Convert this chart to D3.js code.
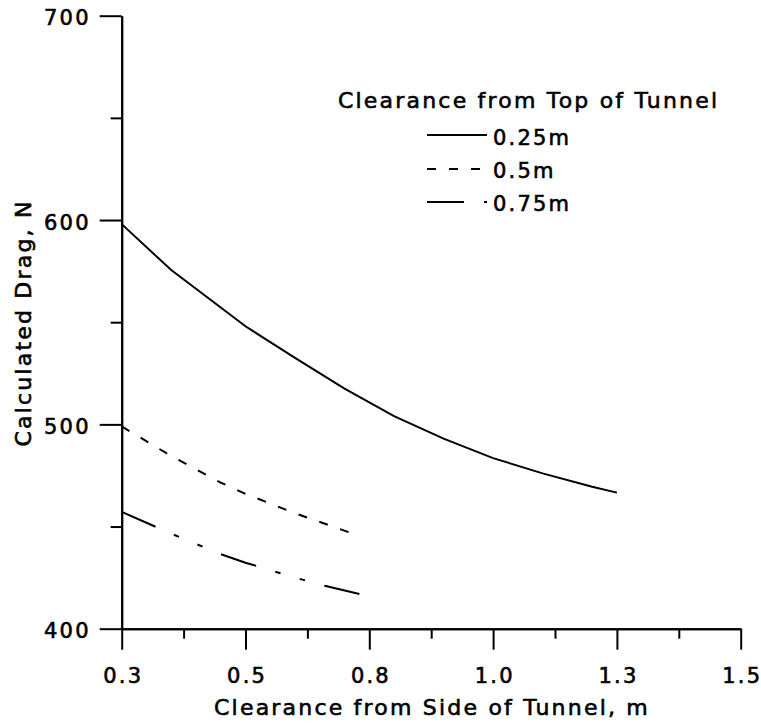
<!DOCTYPE html>
<html>
<head>
<meta charset="utf-8">
<script src="https://cdn.jsdelivr.net/npm/d3@7"></script>
<style>
  body { margin: 0; background: #fff; }
  text { font-family: "DejaVu Sans", sans-serif; fill: #000; stroke: #000; stroke-width: 0.6px; letter-spacing: 2.2px; }
</style>
</head>
<body>
<div id="chart"></div>
<script>
// clearance from side of tunnel, m
var xTop25 = [0.25, 0.35, 0.5, 0.6, 0.7, 0.8, 0.9, 1.0, 1.1, 1.2, 1.25]
var dragTop25 = [598, 575.5, 548, 532.5, 517.5, 504, 493, 483.5, 476, 469.5, 466.6]

var xTop50 = [0.25, 0.35, 0.45, 0.5, 0.6, 0.73]
var dragTop50 = [499, 484.5, 471.5, 466, 456.5, 445.4]

var xTop75 = [0.25, 0.35, 0.45, 0.5, 0.6, 0.66, 0.73]
var dragTop75 = [457.2, 446.5, 436.5, 432.3, 425, 421, 417]

var seriesNames = ["0.25m", "0.5m", "0.75m"]
var dashes = [null, "9,13", "37,20,5.5,20,5.5,20"]

var xTicks = [0.25, 0.5, 0.75, 1.0, 1.25, 1.5]
var xTickLabels = ["0.3", "0.5", "0.8", "1.0", "1.3", "1.5"]
var xMinor = [0.375, 0.625, 0.875, 1.125, 1.375]
var yTicks = [400, 500, 600, 700]
var yMinor = [450, 550, 650]

drawChart(document.getElementById("chart"))

function drawChart(element)
{
  var svg = d3.select(element)
    .append("svg")
      .attr("width", 761)
      .attr("height", 724)

  var x = d3.scaleLinear().domain([0.25, 1.5]).range([121.7, 740.7])
  var y = d3.scaleLinear().domain([400, 700]).range([628.7, 15.7])

  // minor ticks first, majors on top
  svg.append("g")
      .attr("transform", "translate(0,628.7)")
      .call(d3.axisBottom(x).tickValues(xMinor).tickSize(10).tickFormat("").tickSizeOuter(0))
  svg.append("g")
      .attr("transform", "translate(121.7,0)")
      .call(d3.axisLeft(y).tickValues(yMinor).tickSize(11).tickFormat("").tickSizeOuter(0))

  var xAxis = svg.append("g")
      .attr("transform", "translate(0,628.7)")
      .call(d3.axisBottom(x).tickValues(xTicks).tickSize(21).tickSizeOuter(0)
        .tickFormat(function(d, i) { return xTickLabels[i] }))
  xAxis.selectAll("text")
      .attr("y", 54.3)
      .attr("dy", null)
      .attr("dx", 1.1)
      .style("font-size", "21px")

  var yAxis = svg.append("g")
      .attr("transform", "translate(121.7,0)")
      .call(d3.axisLeft(y).tickValues(yTicks).tickSize(22).tickSizeOuter(0))
  yAxis.selectAll("text")
      .attr("x", -31)
      .attr("dy", 9)
      .style("font-size", "21px")

  svg.selectAll(".domain, .tick line")
      .attr("stroke", "#000")
      .attr("stroke-width", 2)
  svg.selectAll(".tick text").attr("font-family", null).attr("font-size", null)

  // curves
  var sets = [[xTop25, dragTop25], [xTop50, dragTop50], [xTop75, dragTop75]]
  var line = d3.line()
      .x(function(d) { return x(d[0]) })
      .y(function(d) { return y(d[1]) })

  sets.forEach(function(s, i) {
    svg.append("path")
        .datum(d3.zip(s[0], s[1]))
        .attr("d", line)
        .attr("fill", "none")
        .attr("stroke", "#000")
        .attr("stroke-width", 2)
        .attr("stroke-dasharray", dashes[i])
  })

  // axis titles
  svg.append("text")
      .attr("x", 432)
      .attr("y", 715)
      .attr("text-anchor", "middle")
      .style("font-size", "22px")
      .text("Clearance from Side of Tunnel, m")

  svg.append("text")
      .attr("transform", "translate(31,323) rotate(-90)")
      .attr("text-anchor", "middle")
      .style("font-size", "22px")
      .text("Calculated Drag, N")

  // legend
  svg.append("text")
      .attr("x", 338)
      .attr("y", 108)
      .style("font-size", "22px")
      .text("Clearance from Top of Tunnel")

  var lineY = [135, 169, 202]
  var textY = [145, 178, 211]
  seriesNames.forEach(function(name, i) {
    svg.append("line")
        .attr("x1", 427).attr("x2", 487)
        .attr("y1", lineY[i]).attr("y2", lineY[i])
        .attr("stroke", "#000")
        .attr("stroke-width", 2)
        .attr("stroke-dasharray", dashes[i])
    svg.append("text")
        .attr("x", 493)
        .attr("y", textY[i])
        .style("font-size", "21px")
        .text(name)
  })
}
</script>
</body>
</html>
